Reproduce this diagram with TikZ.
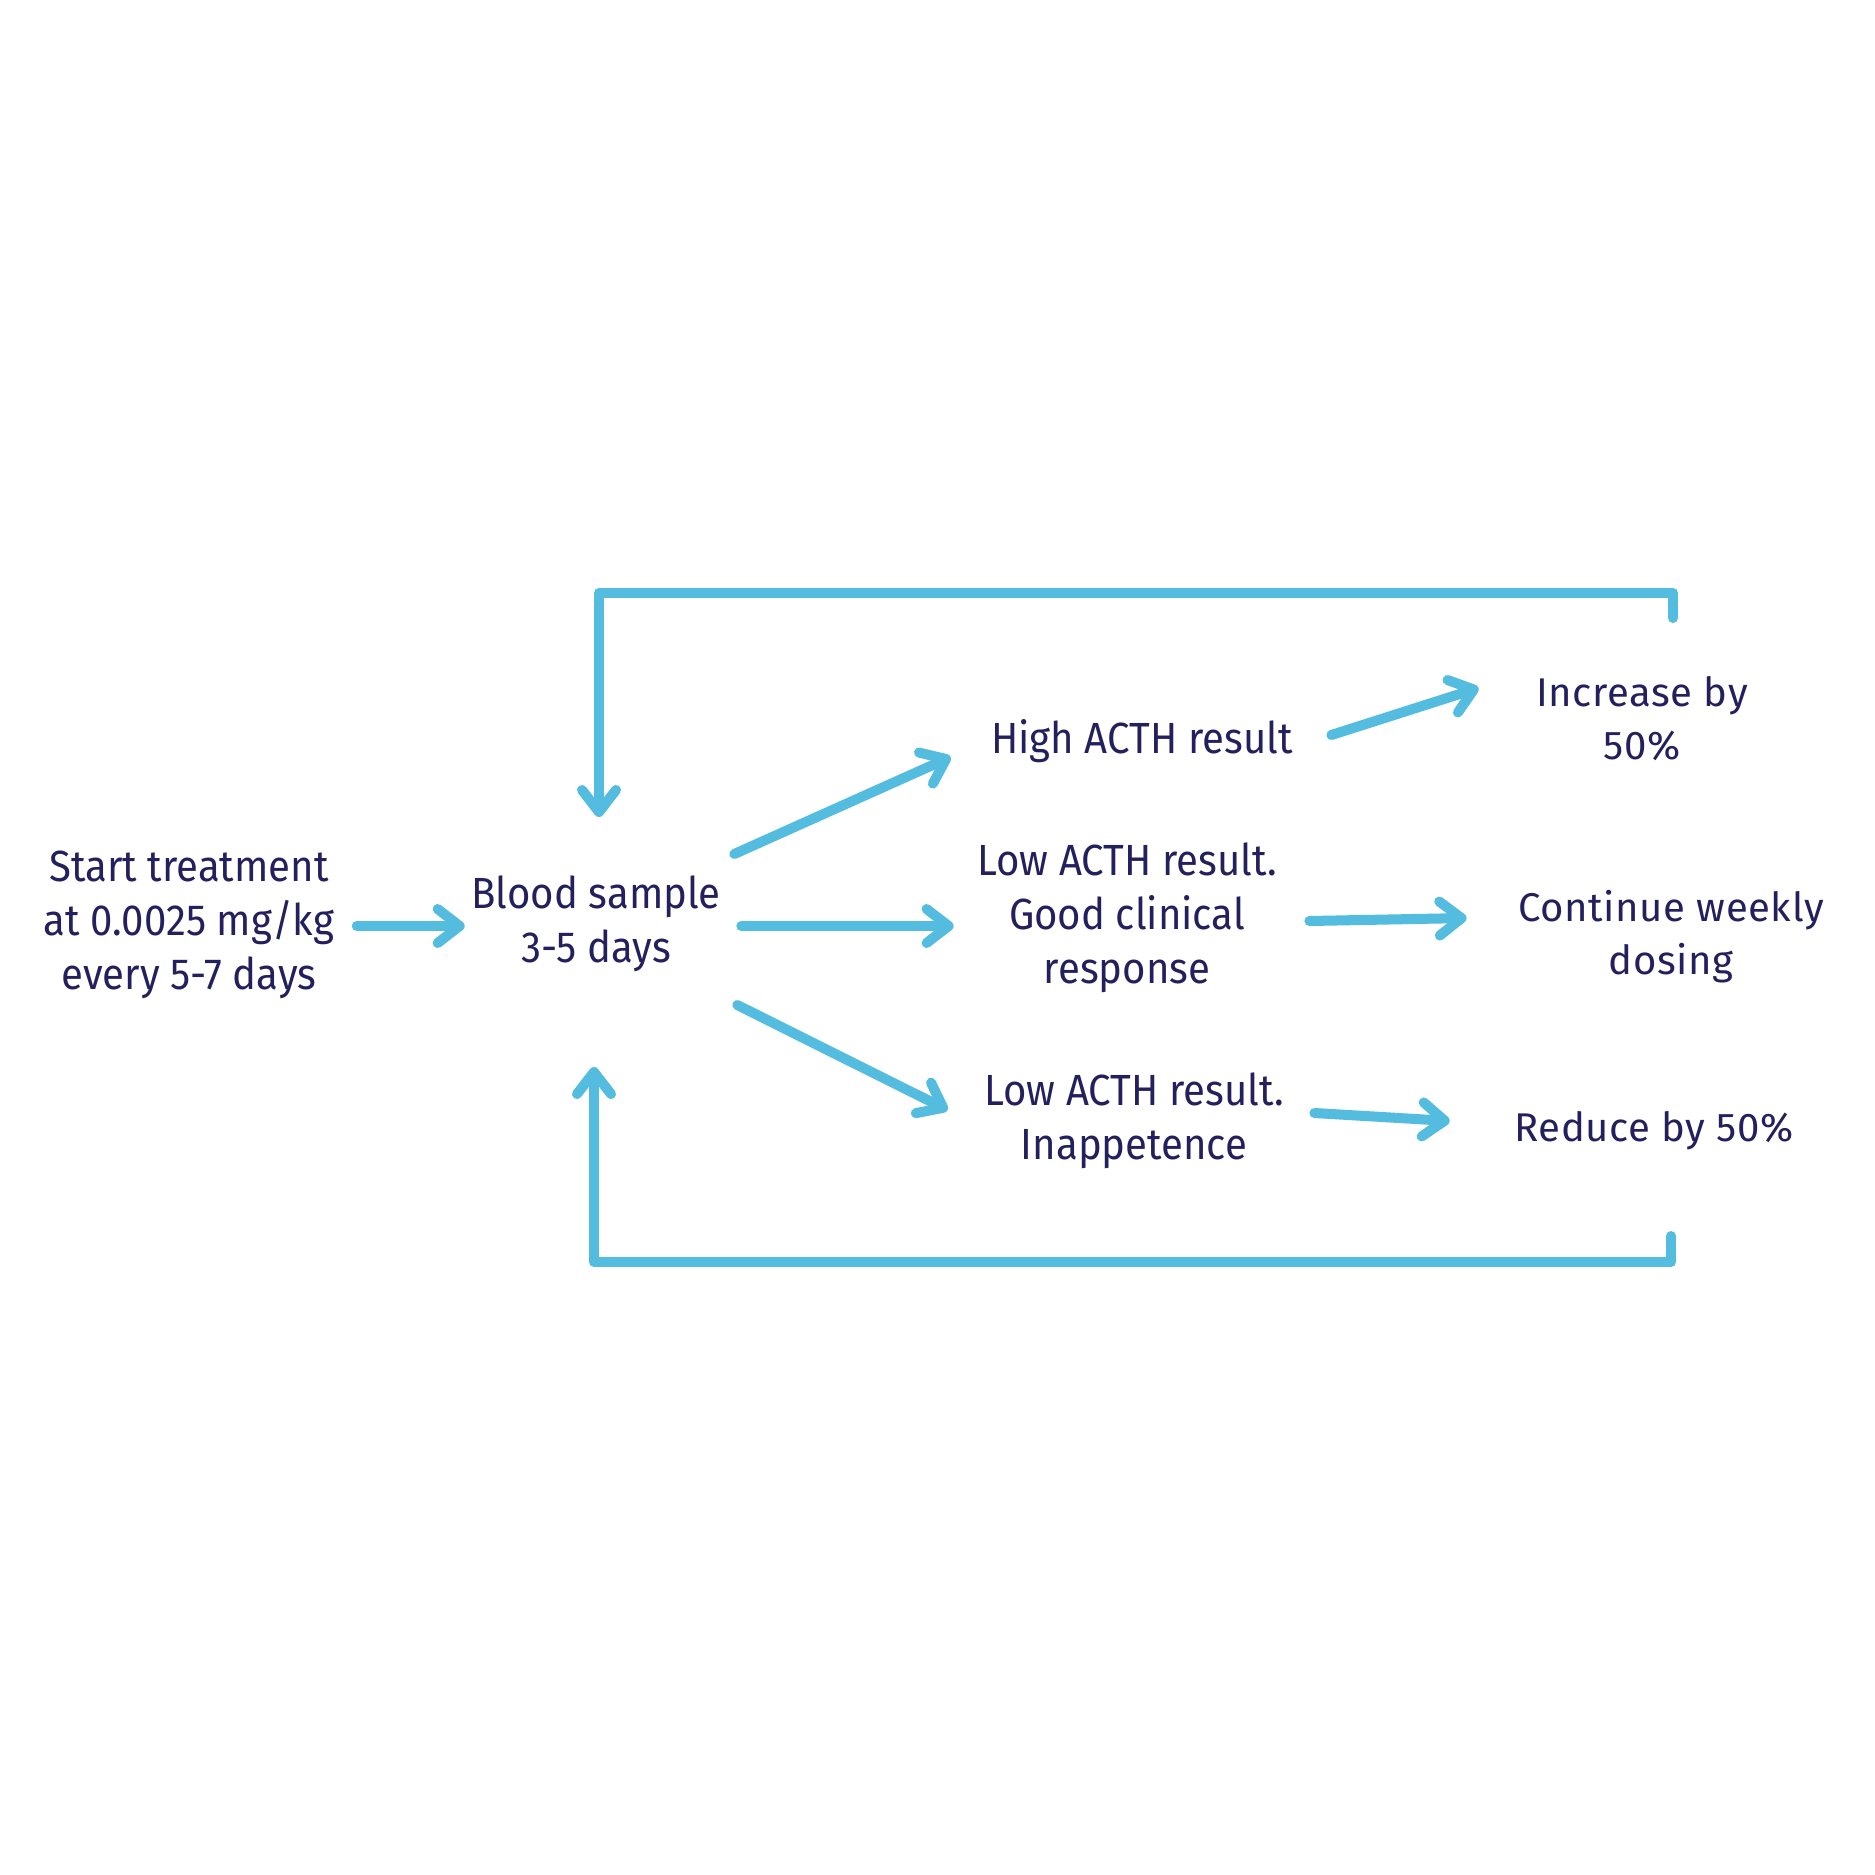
\documentclass[tikz,border=0pt]{standalone}
\usepackage{fontspec}
\setmainfont{Fira Sans}
\newfontfamily\condfont[FakeStretch=0.92]{Fira Sans}
\newfontfamily\widefont[LetterSpace=1.5]{Fira Sans}
\usepackage{tikz}
\usetikzlibrary{positioning,arrows.meta}
\definecolor{navy}{RGB}{36,32,94}
\definecolor{skyblue}{RGB}{84,188,223}
\tikzset{
  labelnode/.style={align=center,inner sep=0pt,text=navy,font=\widefont\fontsize{11.4}{15.1}\selectfont},
  condnode/.style={align=center,inner sep=0pt,text=navy,font=\condfont\fontsize{12.4}{15.4}\selectfont},
  loopline/.style={draw=skyblue,line width=2.85pt,line cap=round,line join=round},
  flow/.style={loopline,-{Straight Barb[length=2.2mm,width=3.4mm,line cap=round,line join=round]}}
}
\begin{document}
\begin{tikzpicture}[x=0.01cm,y=-0.01cm]
  \useasboundingbox[fill=white] (0,0) rectangle (1875,1875);
  % boxes of text
  \node[condnode] (start) at (189,925) {Start treatment\\at 0.0025 mg/kg\\every 5-7 days};
  \node[condnode] (blood) at (596,924) {Blood sample\\3-5 days};
  \node[condnode] (high) at (1142,741) {High ACTH result};
  \node[condnode] (good) at (1127,918) {Low ACTH result.\\Good clinical\\response};
  \node[condnode] (inapp) at (1134,1121) {Low ACTH result.\\Inappetence};
  \node[labelnode] (incr) at (1642,719) {Increase by\\50\%};
  \node[labelnode] (cont) at (1671,937) {Continue weekly\\dosing};
  \node[labelnode] (redu) at (1654,1131) {Reduce by 50\%};
  % arrows
  \draw[flow] ([shift={(22,1)}]start.east) -- ([shift={(-6,2)}]blood.west);
  \draw[flow] ([shift={(13,-70)}]blood.east) -- ([shift={(-40,16)}]high.west);
  \draw[flow] ([shift={(20,2)}]blood.east) -- ([shift={(-23,8)}]good.west);
  \draw[flow] ([shift={(16,81)}]blood.east) -- ([shift={(-36,-11)}]inapp.west);
  \draw[flow] ([shift={(38,-6)}]high.east) -- ([shift={(-57,-31)}]incr.west);
  \draw[flow] ([shift={(32,3)}]good.east) -- ([shift={(-51,-19)}]cont.west);
  \draw[flow] ([shift={(30,-8)}]inapp.east) -- ([shift={(-64,-10)}]redu.west);
  % loops back to the blood sample
  \draw[flow] ([shift={(31,-101)}]incr.center) -- ++(0,-25) -| ([shift={(3,-107)}]blood.center);
  \draw[flow] ([shift={(17,105)}]redu.center) -- ++(0,26) -| ([shift={(-2,143)}]blood.center);
\end{tikzpicture}
\end{document}
